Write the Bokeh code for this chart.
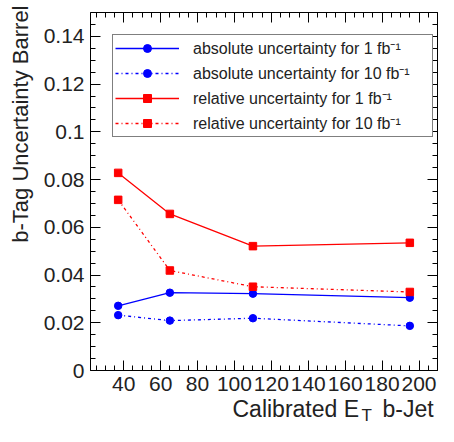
import math
from bokeh.plotting import figure
from bokeh.models import Range1d, FixedTicker, LinearAxis, Legend, LegendItem, Label
from bokeh.embed import file_html
from bokeh.resources import INLINE

# ---- data ----
et = [37, 65, 110, 195]
abs_1fb = [0.0271, 0.0326, 0.0322, 0.0305]
abs_10fb = [0.0232, 0.0209, 0.0219, 0.0187]
rel_1fb = [0.0828, 0.0656, 0.0521, 0.0535]
rel_10fb = [0.0715, 0.0419, 0.0351, 0.0329]

x_ticks = [40, 60, 80, 100, 120, 140, 160, 180, 200]
x_tick_labels = ["40", "60", "80", "100", "120", "140", "160", "180", "200"]
y_ticks = [0, 0.02, 0.04, 0.06, 0.08, 0.1, 0.12, 0.14]
y_tick_labels = ["0", "0.02", "0.04", "0.06", "0.08", "0.1", "0.12", "0.14"]

legend_labels = [
    "absolute uncertainty for 1 fb\u207b\u00b9",
    "absolute uncertainty for 10 fb\u207b\u00b9",
    "relative uncertainty for 1 fb\u207b\u00b9",
    "relative uncertainty for 10 fb\u207b\u00b9",
]
x_title_parts = ["Calibrated E", "T", "b-Jet"]
y_title = "b-Tag Uncertainty Barrel"

X_START, X_END = 22, 210
Y_START, Y_END = 0, 0.15

# ---- layout (pixels inside the canvas) ----
W, H = 438, 426
BOX_L, BOX_R, BOX_T, BOX_B = 90, 437, 12, 370
ppx = (BOX_R - BOX_L) / (X_END - X_START)
ppy = (BOX_B - BOX_T) / (Y_END - Y_START)
x_lo = X_START - BOX_L / ppx
x_hi = X_END + (W - BOX_R) / ppx
y_hi = Y_END + BOX_T / ppy
y_lo = Y_START - (H - BOX_B) / ppy

FONT = "Liberation Sans"
TXT = "#222222"
BLUE = "#0000ff"
RED = "#ff0000"

p = figure(width=W, height=H, output_backend="svg", toolbar_location=None,
           x_range=Range1d(x_lo, x_hi), y_range=Range1d(y_lo, y_hi),
           x_axis_type=None, y_axis_type=None, min_border=0,
           background_fill_color="white", border_fill_color="white")
p.grid.visible = False
p.outline_line_color = None

x_minor = [25 + 5 * i for i in range(0, 38) if 25 + 5 * i <= X_END]
y_minor = [round(0.005 * i, 4) for i in range(0, 31)]


def make_axis(loc, bounds, ticks, minor, labels, show_labels, standoff):
    ax = LinearAxis(fixed_location=loc, bounds=bounds,
                    ticker=FixedTicker(ticks=ticks, minor_ticks=minor))
    ax.axis_line_color = "black"
    ax.axis_line_width = 1
    ax.major_tick_in = 10
    ax.major_tick_out = 0
    ax.minor_tick_in = 5
    ax.minor_tick_out = 0
    ax.major_tick_line_color = "black"
    ax.minor_tick_line_color = "black"
    ax.axis_label = None
    if show_labels:
        ax.major_label_overrides = dict(zip(ticks, labels))
        ax.major_label_text_font = FONT
        ax.major_label_text_font_size = "21px"
        ax.major_label_text_color = TXT
        ax.major_label_standoff = standoff
    else:
        ax.major_label_text_font_size = "0px"
        ax.major_label_text_color = None
        ax.major_label_standoff = 0
    return ax


p.add_layout(make_axis(Y_START, (X_START, X_END), x_ticks, x_minor, x_tick_labels, True, 6), "below")
p.add_layout(make_axis(X_START, (Y_START, Y_END), y_ticks, y_minor, y_tick_labels, True, 6), "left")
p.add_layout(make_axis(Y_END, (X_START, X_END), x_ticks, x_minor, x_tick_labels, False, 0), "above")
p.add_layout(make_axis(X_END, (Y_START, Y_END), y_ticks, y_minor, y_tick_labels, False, 0), "right")

# ---- series ----
series = [
    (abs_1fb, BLUE, "solid", "circle", 7.5),
    (abs_10fb, BLUE, "3 3 1 3", "circle", 7.5),
    (rel_1fb, RED, "solid", "square", 7.5),
    (rel_10fb, RED, "3 3 1 3", "square", 7.5),
]
items = []
for (vals, col, dash, mk, sz), lab in zip(series, legend_labels):
    lr = p.line(et, vals, line_color=col, line_width=1.3, line_dash=dash)
    sr = p.scatter(et, vals, marker=mk, size=sz, fill_color=col, line_color=col)
    items.append(LegendItem(label=lab, renderers=[lr, sr]))

LEG_L, LEG_B = 112, 136.7
legend = Legend(items=items, location=(LEG_L, H - LEG_B))
legend.padding = 2
legend.spacing = 3
legend.margin = 0
legend.glyph_width = 64
legend.glyph_height = 20
legend.label_height = 20
legend.label_width = 237
legend.label_standoff = 14
legend.border_line_color = "black"
legend.border_line_width = 1
legend.background_fill_color = "white"
legend.background_fill_alpha = 1
legend.label_text_font = FONT
legend.label_text_font_size = "16px"
legend.label_text_color = TXT
legend.label_text_baseline = "middle"
p.add_layout(legend)

# ---- axis titles (ROOT style, with subscript) ----
p.add_layout(Label(x=X_START, y=Y_START, x_offset=142, y_offset=-38,
                   text=x_title_parts[0], text_font=FONT, text_font_size="23px",
                   text_color=TXT, text_align="left", text_baseline="middle"))
p.add_layout(Label(x=X_START, y=Y_START, x_offset=271, y_offset=-45,
                   text=x_title_parts[1], text_font=FONT, text_font_size="17px",
                   text_color=TXT, text_align="left", text_baseline="middle"))
p.add_layout(Label(x=X_START, y=Y_START, x_offset=292, y_offset=-38,
                   text=x_title_parts[2], text_font=FONT, text_font_size="23px",
                   text_color=TXT, text_align="left", text_baseline="middle"))
p.add_layout(Label(x=X_START, y=Y_END, x_offset=-70, y_offset=BOX_T - 5,
                   text=y_title, text_font=FONT, text_font_size="22px",
                   text_color=TXT, text_align="right", text_baseline="middle",
                   angle=math.pi / 2))

open("out.html", "w").write(file_html(p, INLINE))
